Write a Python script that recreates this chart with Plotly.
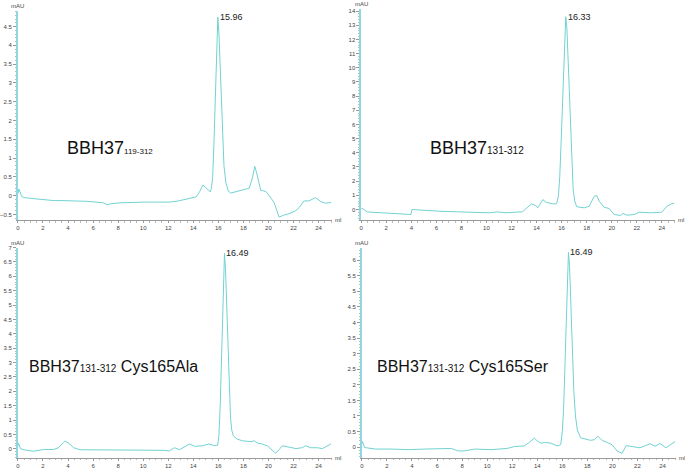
import plotly.graph_objects as go

# ---------------- data ----------------
# Panel A: BBH37 119-312
xa = [0.0, 0.08, 0.3, 0.48, 1.0, 1.54, 2.0, 2.86, 3.5, 4.18, 4.8, 5.5, 6.2, 6.83, 7.09, 7.5, 8.15, 8.8,
      9.47, 10.1, 10.8, 11.5, 12.1, 12.8, 13.44, 13.9, 14.23, 14.5, 14.76, 15.0, 15.35, 15.45, 15.55,
      15.65, 15.75, 15.85, 15.96, 16.05, 16.15, 16.25, 16.35, 16.45, 16.6, 16.8, 17.0, 17.4, 17.94,
      18.47, 18.7, 18.91, 19.1, 19.39, 19.6, 19.8, 20.06, 20.45, 20.85, 21.2, 21.65, 22.17, 22.5,
      22.83, 23.23, 23.5, 23.76, 24.15, 24.55, 25.0]
ya = [0.05, 0.18, -0.02, -0.05, -0.07, -0.09, -0.1, -0.13, -0.13, -0.13, -0.15, -0.15, -0.17, -0.19,
      -0.24, -0.21, -0.19, -0.18, -0.17, -0.17, -0.17, -0.18, -0.17, -0.14, -0.09, -0.07, -0.03, 0.1,
      0.28, 0.22, 0.1, 0.2, 0.5, 1.4, 2.5, 3.8, 4.75, 4.3, 3.4, 2.3, 1.4, 0.8, 0.35, 0.12, 0.07, 0.1,
      0.16, 0.2, 0.45, 0.78, 0.55, 0.14, 0.13, 0.11, 0.0, -0.18, -0.57, -0.52, -0.48, -0.4, -0.3,
      -0.14, -0.14, -0.1, -0.05, -0.15, -0.2, -0.18]

# Panel B: BBH37 131-312
xb = [0.0, 0.05, 0.48, 1.8, 2.7, 3.6, 3.97, 4.05, 5.2, 6.28, 7.6, 8.9, 10.2, 10.9, 11.55, 12.86,
      13.26, 13.6, 13.93, 14.1, 14.5, 14.76, 15.3, 15.6, 15.75, 15.85, 15.95, 16.05, 16.15, 16.25,
      16.33, 16.42, 16.52, 16.62, 16.72, 16.82, 16.92, 17.05, 17.2, 17.8, 18.2, 18.6, 18.8, 19.0,
      19.4, 19.8, 20.2, 20.7, 20.9, 21.2, 21.8, 22.2, 23.1, 24.0, 24.4, 24.8, 25.0]
yb = [0.05, 0.1, -0.17, -0.23, -0.28, -0.35, -0.35, 0.0, -0.07, -0.12, -0.16, -0.19, -0.23, -0.17,
      -0.23, -0.16, 0.12, 0.4, 0.28, 0.12, 0.7, 0.51, 0.4, 0.4, 1.0, 2.3, 4.5, 7.2, 10.0, 12.6, 13.6,
      12.8, 10.6, 7.8, 5.0, 2.8, 1.4, 0.6, 0.2, 0.12, 0.23, 0.93, 1.0, 0.58, 0.16, 0.07, -0.35, -0.42,
      -0.28, -0.4, -0.35, -0.19, -0.23, -0.19, 0.23, 0.42, 0.45]

# Panel C: BBH37 131-312 Cys165Ala
xc = [0.0, 0.05, 0.21, 0.7, 1.27, 2.06, 2.86, 3.25, 3.65, 3.78, 4.05, 4.44, 4.97, 6.8, 8.0, 9.4,
      11.6, 12.1, 12.5, 12.9, 13.7, 14.1, 14.76, 15.24, 15.7, 15.95, 16.05, 16.15, 16.25, 16.35,
      16.43, 16.49, 16.57, 16.67, 16.77, 16.87, 16.97, 17.07, 17.2, 17.5, 17.94, 18.6, 18.87, 19.13,
      19.5, 19.9, 20.2, 20.58, 20.85, 21.1, 21.64, 22.2, 22.7, 22.96, 23.36, 23.9, 24.3, 25.0]
yc = [0.1, 0.2, 0.0, -0.05, -0.08, -0.02, -0.02, 0.04, 0.23, 0.27, 0.2, 0.04, -0.03, -0.03, -0.04,
      -0.05, -0.05, -0.07, 0.04, -0.03, 0.17, 0.09, 0.11, 0.17, 0.11, 0.13, 0.5, 1.5, 3.0, 5.0, 6.4,
      6.8, 6.3, 5.0, 3.4, 2.0, 1.1, 0.65, 0.45, 0.34, 0.28, 0.25, 0.28, 0.2, 0.17, 0.11, -0.02,
      -0.15, -0.03, 0.11, 0.06, 0.01, 0.04, 0.11, 0.04, 0.04, 0.01, 0.17]

# Panel D: BBH37 131-312 Cys165Ser
xd = [0.0, 0.05, 0.21, 1.06, 2.38, 3.7, 5.03, 6.35, 7.14, 7.67, 8.2, 9.0, 10.3, 11.6, 12.17, 12.96,
      13.36, 13.76, 14.0, 14.3, 14.6, 15.08, 15.6, 15.87, 16.0, 16.1, 16.2, 16.3, 16.4, 16.49, 16.58,
      16.68, 16.8, 16.92, 17.05, 17.2, 17.46, 18.25, 18.57, 18.84, 19.18, 19.58, 19.97, 20.37, 20.77,
      21.1, 21.4, 22.2, 23.0, 23.4, 23.8, 24.27, 25.0]
yd = [0.1, 0.18, -0.01, -0.06, -0.06, -0.08, -0.06, -0.06, -0.04, -0.12, -0.12, -0.06, -0.08,
      -0.04, 0.02, 0.04, 0.15, 0.29, 0.2, 0.13, 0.15, 0.13, 0.04, 0.08, 0.5, 1.2, 2.5, 4.0, 5.6, 6.25,
      5.8, 4.6, 3.0, 1.8, 1.0, 0.55, 0.3, 0.22, 0.24, 0.35, 0.22, 0.14, 0.08, -0.12, -0.2, 0.05, 0.03,
      -0.02, 0.11, 0.03, 0.12, -0.02, 0.18]

names_main = ["BBH37", "BBH37", "BBH37", "BBH37"]
names_sub = ["119-312", "131-312", "131-312", "131-312"]
names_tail = ["", "", " Cys165Ala", " Cys165Ser"]
peak_labels = ["15.96", "16.33", "16.49", "16.49"]
peak_x = [15.96, 16.33, 16.49, 16.49]
peak_y = [4.75, 13.6, 6.8, 6.25]

W, H = 685, 469
LINE = "#72d2d2"
AXC = "#9a9a9a"
TXT = "#444444"

# pixel boxes: (left, right, top, bottom), y ranges and tick steps
boxes = [(14, 330, 8.2, 219), (359.3, 675.3, 6, 219), (14, 330, 246.7, 458.7), (360, 676, 247.3, 458.7)]
yranges = [(-0.65, 4.91), (-0.748, 14.15), (-0.31, 7.0), (-0.34, 6.38)]
ydt = [0.5, 1, 0.5, 0.5]
ymdt = [0.1, 0.2, 0.1, 0.1]
xrange_ = (0, 25.08)
label_pos = [(61, 146), (426, 146), (23, 367), (373, 367)]
label_size = [18, 18, 16, 16]
sub_size = [8, 10, 10, 10]

data = [(xa, ya), (xb, yb), (xc, yc), (xd, yd)]

fig = go.Figure()
layout = dict(width=W, height=H, margin=dict(l=0, r=0, t=0, b=0), paper_bgcolor="white",
              plot_bgcolor="white", showlegend=False, font=dict(family="Liberation Sans, Arial", color=TXT))
annotations = []
for i, ((x, y), (l, r, t, b)) in enumerate(zip(data, boxes)):
    n = "" if i == 0 else str(i + 1)
    fig.add_trace(go.Scatter(x=x, y=y, mode="lines", line=dict(color=LINE, width=1),
                             xaxis="x" + n, yaxis="y" + n, hoverinfo="skip"))
    layout["xaxis" + n] = dict(domain=[l / W, r / W], range=list(xrange_), anchor="y" + n,
                               showgrid=False, zeroline=False, showline=True, linecolor=AXC, linewidth=1,
                               ticks="outside", ticklen=2, tickcolor=AXC, dtick=2, tick0=0,
                               tickfont=dict(size=6, color=TXT),
                               minor=dict(ticks="outside", ticklen=1.5, dtick=0.5, tickcolor="#bbbbbb"))
    layout["yaxis" + n] = dict(domain=[1 - b / H, 1 - t / H], range=list(yranges[i]), anchor="x" + n,
                               showgrid=False, zeroline=False, showline=True, linecolor="#8fd6e0", linewidth=1.5,
                               ticks="outside", ticklen=3, tickcolor=AXC, dtick=ydt[i], tick0=0,
                               tickfont=dict(size=6, color=TXT),
                               minor=dict(ticks="outside", ticklen=1.5, dtick=ymdt[i], tickcolor="#bbbbbb"))
    # axis titles
    annotations.append(dict(x=l / W, y=1 - t / H, xref="paper", yref="paper", text="mAU", showarrow=False,
                            xanchor="center", yanchor="bottom", font=dict(size=6, color=TXT)))
    annotations.append(dict(x=r / W, y=1 - b / H, xref="paper", yref="paper", text="ml", showarrow=False,
                            xanchor="left", yanchor="middle", xshift=1, font=dict(size=6, color=TXT)))
    # peak label
    annotations.append(dict(x=peak_x[i], y=peak_y[i], xref="x" + n, yref="y" + n, text=peak_labels[i],
                            showarrow=False, xanchor="left", yanchor="middle", xshift=0,
                            font=dict(size=9, color="#222222")))
    # sample label
    lx, ly = label_pos[i]
    txt = (names_main[i] + "<span style='font-size:%dpx'>" % sub_size[i] + names_sub[i] + "</span>"
           + names_tail[i])
    annotations.append(dict(x=lx / W, y=1 - ly / H, xref="paper", yref="paper", text=txt, showarrow=False,
                            xanchor="left", yanchor="middle", font=dict(size=label_size[i], color="#111111")))

layout["annotations"] = annotations
fig.update_layout(**layout)
fig.write_html("out.html", config={"displayModeBar": False},
               post_script="document.body.style.margin='0';")
